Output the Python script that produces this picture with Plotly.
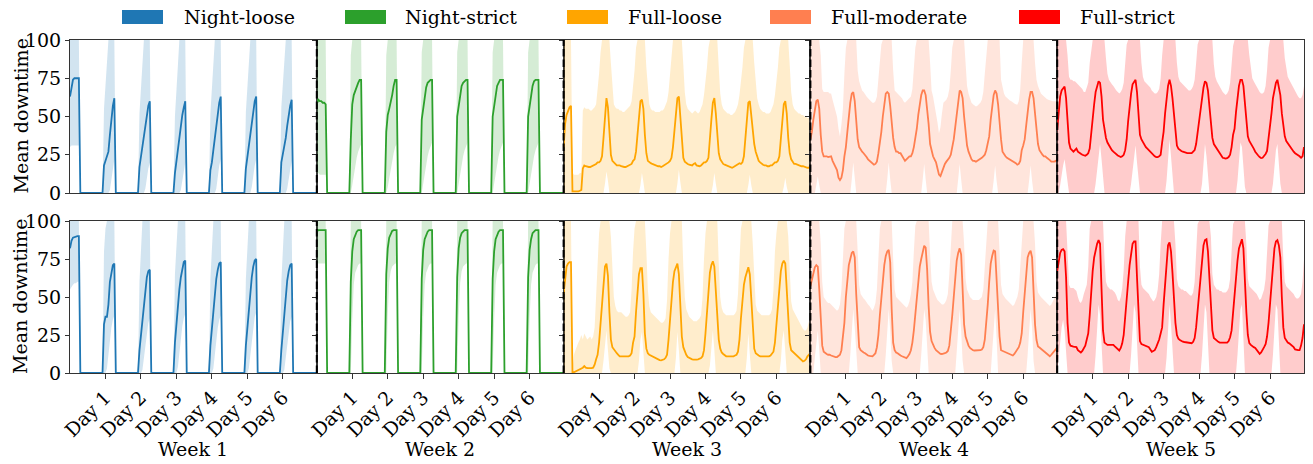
import plotly.graph_objects as go

# ---------------- categories / labels ----------------
POLICIES = ["Night-loose", "Night-strict", "Full-loose", "Full-moderate", "Full-strict"]
COLORS = ["#1f77b4", "#2ca02c", "#FFA500", "#FF7F50", "#FF0000"]
WEEKS = ["Week 1", "Week 2", "Week 3", "Week 4", "Week 5"]
DAY_TICKS = [24, 48, 72, 96, 120, 144]
DAY_LABELS = ["Day 1", "Day 2", "Day 3", "Day 4", "Day 5", "Day 6"]
Y_TICKS = [0, 25, 50, 75, 100]
Y_TITLE = "Mean downtime"
HOURS = 168
NIGHT_STARTS = [0, 23, 47, 71, 95, 119, 143]

# ---------------- Row 1 ----------------
NL1_MEAN = [[63, 70, 74, 75, 75, 75, 75],
            [18, 21, 24, 27, 38, 48, 57, 62],
            [17, 24, 31, 38, 45, 52, 57, 60],
            [13, 21, 29, 37, 44, 51, 56, 60],
            [15, 20, 28, 36, 45, 53, 59, 63],
            [16, 23, 31, 39, 47, 54, 60, 63],
            [20, 25, 29, 36, 44, 51, 57, 61]]
NL1_HI = [[100, 100, 100, 100, 100, 100, 100],
          [55, 70, 85, 100, 100, 100, 100, 100],
          [52, 68, 85, 100, 100, 100, 100, 100],
          [50, 66, 84, 100, 100, 100, 100, 100],
          [52, 68, 85, 100, 100, 100, 100, 100],
          [53, 70, 86, 100, 100, 100, 100, 100],
          [56, 72, 86, 100, 100, 100, 100, 100]]
NL1_LO = [[30, 31, 31, 31, 31, 31, 31],
          [0, 0, 0, 0, 2, 10, 17, 22],
          [0, 0, 0, 0, 3, 10, 16, 20],
          [0, 0, 0, 0, 2, 9, 15, 20],
          [0, 0, 0, 0, 3, 11, 18, 22],
          [0, 0, 0, 0, 4, 12, 18, 22],
          [0, 0, 0, 0, 3, 10, 16, 21]]

NS1_MEAN = [[58, 61, 60, 60, 59, 59, 58],
            [35, 58, 64, 67, 70, 72, 74, 74],
            [40, 51, 55, 59, 64, 70, 74, 74],
            [48, 55, 64, 69, 72, 73, 74, 74],
            [50, 57, 65, 70, 72, 73, 74, 74],
            [50, 58, 66, 70, 72, 74, 74, 74],
            [50, 58, 66, 70, 73, 74, 74, 74]]
NS1_HI = [[100, 100, 100, 100, 100, 100, 100],
          [90, 100, 100, 100, 100, 100, 100, 100],
          [90, 100, 100, 100, 100, 100, 100, 100],
          [92, 100, 100, 100, 100, 100, 100, 100],
          [92, 100, 100, 100, 100, 100, 100, 100],
          [92, 100, 100, 100, 100, 100, 100, 100],
          [92, 100, 100, 100, 100, 100, 100, 100]]
NS1_LO = [[13, 13, 12, 12, 12, 12, 12],
          [0, 5, 12, 18, 23, 27, 30, 32],
          [0, 4, 10, 16, 21, 26, 30, 32],
          [0, 6, 13, 19, 24, 28, 31, 33],
          [0, 6, 13, 19, 24, 28, 31, 33],
          [0, 6, 13, 19, 24, 28, 31, 33],
          [0, 6, 13, 19, 24, 28, 31, 33]]

FL1_MEAN = [[30, 45, 51, 54, 56, 57, 1, 1, 1, 1, 1, 1.5, 2, 16, 18, 17.5, 17, 17, 17, 17.5, 18, 18, 19, 20],
            [20, 21, 24, 36, 53, 62, 56, 40, 25, 21, 20, 19, 18, 18, 18, 17.5, 17, 17, 17, 17.5, 18, 18, 19, 21],
            [22, 27, 38, 52, 60, 61, 55, 38, 26, 21, 20, 19.5, 19, 18.5, 18.5, 18, 17.5, 17.5, 17, 17.5, 18, 18.5, 19, 20],
            [21, 23, 30, 42, 55, 62, 63, 50, 32, 23, 20.5, 19.5, 19, 18.5, 18, 18, 19, 19.5, 18, 17.5, 17.5, 18, 19, 20],
            [20, 21, 23, 33, 48, 59, 62, 52, 36, 26, 22, 20, 19, 18.5, 18, 17.5, 17, 16.5, 16.5, 17, 17.5, 18, 19, 19.5],
            [19, 20, 24, 35, 50, 59, 60, 50, 38, 32, 27, 23, 21, 20, 19, 18.5, 18, 18, 17.5, 17.5, 18, 18, 19, 20],
            [20, 21, 24, 34, 48, 58, 60, 52, 36, 26, 22, 20, 19, 19, 18.5, 18, 18, 17.5, 17.5, 17, 17, 16.5, 16.5, 17]]
FL1_HI = [[100, 100, 100, 100, 100, 100, 13, 12, 12, 12, 12, 13, 13, 54, 56, 55, 55, 55, 54, 54, 55, 56, 58, 66],
          [78, 92, 100, 100, 100, 100, 100, 100, 85, 68, 58, 56, 55, 55, 54, 54, 53, 53, 54, 55, 56, 57, 60, 68],
          [80, 95, 100, 100, 100, 100, 100, 100, 82, 66, 58, 55, 54, 54, 53, 53, 53, 53, 54, 54, 55, 57, 60, 66],
          [76, 88, 100, 100, 100, 100, 100, 100, 100, 84, 66, 58, 55, 54, 53, 52, 53, 54, 53, 52, 53, 55, 58, 64],
          [72, 82, 95, 100, 100, 100, 100, 100, 100, 82, 65, 58, 55, 54, 53, 52, 52, 51, 51, 52, 53, 55, 58, 64],
          [72, 82, 95, 100, 100, 100, 100, 100, 100, 85, 70, 62, 58, 55, 54, 53, 53, 52, 52, 52, 53, 55, 58, 64],
          [72, 82, 95, 100, 100, 100, 100, 100, 100, 84, 66, 58, 55, 54, 53, 52, 52, 51, 51, 50, 50, 49, 49, 50]]
FL1_LO = {28: 6, 29: 14, 30: 8, 52: 5, 53: 13, 54: 7, 77: 6, 78: 15, 79: 7,
          101: 5, 102: 13, 103: 6, 125: 5, 126: 12, 127: 5, 149: 4, 150: 10, 151: 4}

FM1_MEAN = [[35, 40, 48, 56, 60, 61, 55, 38, 27, 24, 24, 24, 23.5, 24, 24, 21, 19, 17, 15, 10, 8.5, 10, 15, 24],
            [30, 40, 50, 59, 65, 66, 60, 46, 35, 30, 28, 27, 26, 25, 23.5, 22, 21, 20, 19, 18.5, 19, 20.5, 26, 32],
            [40, 50, 60, 65, 66, 65, 57, 45, 36, 30, 27, 27, 26, 26, 24, 23, 21, 22, 23, 24, 24, 26, 30, 35],
            [42, 51, 59, 64, 67, 67, 64, 55, 45, 32, 27, 24, 22, 20, 16, 12, 11, 14, 17, 19, 20.5, 21.5, 23, 25],
            [29, 35, 43, 52, 61, 67, 66, 62, 50, 38, 31, 27, 24, 22, 21, 21, 20.5, 21, 21.5, 22, 23, 24, 25, 28],
            [32, 37, 48, 58, 64, 67, 65, 58, 45, 35, 27, 25, 24, 23, 22.5, 22, 21.5, 21, 20.5, 19.5, 18.5, 19, 21, 28],
            [31, 35, 44, 53, 61, 66, 66, 62, 52, 43, 32, 28, 26, 25, 24, 24, 23, 22.5, 21.5, 20.5, 20.5, 20.5, 21, 20]]
FM1_HI = [[100, 100, 100, 100, 100, 100, 100, 90, 68, 66, 66, 66, 66, 65, 65, 61, 57, 54, 50, 42, 37, 45, 55, 78],
          [95, 100, 100, 100, 100, 100, 100, 100, 80, 73, 70, 67, 66, 64, 63, 62, 61, 60, 59, 59, 60, 63, 75, 88],
          [97, 100, 100, 100, 100, 100, 100, 100, 80, 67, 66, 65, 64, 63, 62, 60, 59, 60, 61, 62, 63, 68, 80, 95],
          [100, 100, 100, 100, 100, 100, 100, 100, 100, 85, 67, 63, 58, 52, 46, 39, 43, 52, 59, 60, 61, 63, 68, 80],
          [95, 100, 100, 100, 100, 100, 100, 100, 100, 85, 70, 65, 61, 59, 58, 57, 56.5, 57, 58, 59, 61, 66, 78, 92],
          [100, 100, 100, 100, 100, 100, 100, 100, 100, 74, 68, 65, 63, 62, 61, 60.5, 60, 59, 58.5, 58, 57.6, 60, 68, 85],
          [100, 100, 100, 100, 100, 100, 100, 100, 85, 74, 70, 67, 65, 64, 63, 62, 61.5, 61, 60.5, 60, 60, 60, 60, 60]]
FM1_LO = {4: 5, 5: 11, 6: 5, 28: 9, 29: 20, 30: 10, 52: 9, 53: 20, 54: 9, 76: 9, 77: 19, 78: 9,
          100: 9, 101: 19, 102: 9, 124: 8, 125: 18, 126: 8, 148: 8, 149: 18, 150: 8}

FS1_MEAN = [[41, 55, 63, 67, 68.5, 69.6, 62, 45, 33, 29, 28, 27, 28, 29, 27, 26, 25.6, 25, 24.5, 24.3, 25, 26, 29, 40],
            [49, 58, 66, 70, 73, 72, 63, 48, 40, 36, 33, 31, 30, 28, 27, 26, 25, 24.5, 24, 23.5, 24, 25, 28, 35],
            [47, 57, 65, 71, 73, 74, 66, 50, 38, 35, 33, 31.5, 30, 29, 28, 27, 25.5, 24.5, 24, 23.5, 23.5, 24, 25, 33],
            [40, 52, 61, 70, 74, 70, 62, 50, 37, 31, 29, 28, 27.5, 27, 26.5, 26, 26, 26, 26, 26, 27, 28, 32, 40],
            [46, 55, 62, 69, 73, 72, 67, 57, 47, 36, 32, 30.5, 29, 27, 25.5, 24, 23, 22.8, 22.5, 22.8, 23.5, 25, 30, 38],
            [42, 53, 63, 70, 74, 74, 70, 57, 45, 37, 34, 32.5, 31, 29, 27, 25.5, 24.5, 23.5, 22.8, 23, 24, 25.5, 27.5, 35],
            [44, 52, 62, 67, 72, 74, 70, 64, 52, 42, 37, 34, 32.5, 31, 29.5, 28, 27, 26, 25.5, 25, 24, 23, 24, 30]]
FS1_HI = [[100, 100, 100, 100, 100, 100, 100, 90, 76, 74, 74, 73, 73, 72, 71, 70, 69.6, 68, 66, 66, 69, 72, 85, 95],
          [100, 100, 100, 100, 100, 100, 100, 100, 100, 88, 78, 74, 72, 71, 70, 68, 67, 66, 65, 66, 68, 72, 85, 97],
          [100, 100, 100, 100, 100, 100, 100, 100, 100, 85, 76, 73, 72, 71, 70, 69, 67, 66, 65, 65, 66, 68, 75, 90],
          [100, 100, 100, 100, 100, 100, 100, 100, 100, 85, 76, 73, 72, 71, 70, 69, 68, 67, 67, 68, 70, 74, 85, 97],
          [100, 100, 100, 100, 100, 100, 100, 100, 100, 100, 84, 76, 73, 71, 69, 67, 66, 65, 64, 65, 67, 72, 84, 96],
          [100, 100, 100, 100, 100, 100, 100, 100, 100, 100, 90, 80, 75, 73, 71, 69, 67, 66, 65, 65, 66, 70, 80, 95],
          [100, 100, 100, 100, 100, 100, 100, 100, 100, 100, 88, 80, 76, 74, 72, 70, 68, 66, 65, 63, 62, 62, 64, 70]]
FS1_LO = {2: 5, 3: 12, 4: 18, 5: 22, 6: 15, 7: 5, 26: 6, 27: 16, 28: 26, 29: 32, 30: 22, 31: 10,
          50: 6, 51: 16, 52: 26, 53: 31, 54: 20, 55: 8, 74: 8, 75: 20, 76: 35, 77: 24, 78: 12,
          98: 6, 99: 18, 100: 32, 101: 24, 102: 10, 122: 8, 123: 20, 124: 33, 125: 30, 126: 15, 127: 4,
          146: 6, 147: 18, 148: 28, 149: 32, 150: 18, 151: 6}

# ---------------- Row 2 ----------------
NL2_MEAN = [[82, 87, 89, 89.5, 90, 90, 90],
            [32, 37, 37, 45, 60, 67, 71, 72],
            [15, 25, 37, 48, 57, 63, 67, 68],
            [20, 33, 45, 55, 63, 69, 73, 74],
            [18, 30, 42, 53, 62, 68, 72, 73],
            [18, 30, 42, 54, 63, 70, 74, 75],
            [15, 28, 40, 52, 61, 67, 71, 72]]
NL2_HI = [[100, 100, 100, 100, 100, 100, 100],
          [80, 95, 100, 100, 100, 100, 100, 100],
          [60, 80, 100, 100, 100, 100, 100, 100],
          [65, 85, 100, 100, 100, 100, 100, 100],
          [62, 82, 100, 100, 100, 100, 100, 100],
          [62, 82, 100, 100, 100, 100, 100, 100],
          [60, 80, 100, 100, 100, 100, 100, 100]]
NL2_LO = [[55, 57, 58, 59, 59, 60, 60],
          [0, 0, 3, 12, 22, 30, 35, 38],
          [0, 0, 2, 10, 20, 28, 33, 36],
          [0, 0, 4, 13, 23, 31, 36, 39],
          [0, 0, 3, 12, 22, 30, 35, 38],
          [0, 0, 3, 12, 23, 31, 37, 40],
          [0, 0, 2, 10, 21, 29, 34, 37]]

NS2_MEAN = [[93, 94, 94, 94, 94, 94, 94],
            [60, 80, 88, 91, 93, 94, 94, 94],
            [65, 82, 89, 92, 93.5, 94, 94, 94],
            [62, 81, 88, 91, 93, 94, 94, 94],
            [63, 82, 89, 92, 93, 94, 94, 94],
            [62, 80, 88, 91, 93, 94, 94, 94],
            [63, 81, 88, 92, 93, 94, 94, 94]]
NS2_HI = [[100, 100, 100, 100, 100, 100, 100],
          [100, 100, 100, 100, 100, 100, 100, 100],
          [100, 100, 100, 100, 100, 100, 100, 100],
          [100, 100, 100, 100, 100, 100, 100, 100],
          [100, 100, 100, 100, 100, 100, 100, 100],
          [100, 100, 100, 100, 100, 100, 100, 100],
          [100, 100, 100, 100, 100, 100, 100, 100]]
NS2_LO = [[72, 72, 72, 72, 72, 72, 72],
          [0, 35, 58, 66, 69, 71, 72, 72],
          [0, 38, 60, 67, 70, 71, 72, 72],
          [0, 36, 58, 66, 69, 71, 72, 72],
          [0, 37, 59, 67, 70, 71, 72, 72],
          [0, 35, 58, 66, 69, 71, 72, 72],
          [0, 36, 58, 66, 69, 71, 72, 72]]

FL2_MEAN = [[52, 64, 70, 72, 73, 73, 0.5, 0.5, 1, 1.5, 1.5, 2, 2.5, 3.5, 4.5, 3.5, 3.3, 3.3, 3, 3.2, 3.5, 5.5, 9, 12],
            [20, 33, 47, 62, 70, 72, 64, 40, 22, 17, 15.5, 14, 13, 12, 11, 11, 11, 11, 11, 11, 11, 11.5, 13, 20],
            [24, 40, 55, 65, 69, 69, 52, 26, 16, 13, 12, 11.5, 11, 10, 9.5, 9, 8.7, 8.5, 8.3, 8.5, 9, 10, 12, 22],
            [35, 48, 60, 67, 70, 72, 65, 42, 24, 17, 14, 12, 10.5, 9.8, 9.3, 9, 8.8, 8.7, 8.8, 9, 9.3, 9.8, 11, 15],
            [26, 38, 56, 66, 71, 73.5, 70, 52, 37, 22, 16, 13.5, 12.5, 11.5, 11, 11, 11, 11, 11, 11, 11.5, 12, 14, 22],
            [36, 50, 58, 63, 67, 69.6, 65, 50, 35, 16, 13, 12, 11.5, 11, 11, 11, 11, 11, 11, 11, 11.5, 12.5, 14, 20],
            [33, 45, 58, 67, 72, 74, 72, 52, 33, 20, 15, 14, 13, 12, 11, 10, 9, 8.3, 7.6, 8, 9, 11, 12, 13]]
FL2_HI = [[100, 100, 100, 100, 100, 100, 3, 12, 15, 18, 20, 22, 25, 22, 26, 24, 22, 23, 24, 22, 24, 30, 48, 75],
          [92, 100, 100, 100, 100, 100, 100, 100, 90, 70, 50, 44, 41, 40, 40, 40, 39, 38, 37, 37, 38, 40, 55, 80],
          [95, 100, 100, 100, 100, 100, 100, 100, 80, 55, 44, 40, 39, 38, 37, 36, 35, 34, 33, 33, 34, 36, 48, 75],
          [92, 100, 100, 100, 100, 100, 100, 100, 100, 70, 50, 42, 39, 37, 36, 35, 34, 34, 34, 35, 36, 38, 50, 75],
          [92, 100, 100, 100, 100, 100, 100, 100, 100, 72, 50, 43, 40, 39, 38, 38, 38, 38, 38, 38, 39, 41, 52, 78],
          [95, 100, 100, 100, 100, 100, 100, 100, 85, 60, 45, 41, 40, 39, 38, 38, 38, 38, 38, 38, 39, 42, 55, 80],
          [92, 100, 100, 100, 100, 100, 100, 100, 90, 65, 47, 42, 40, 38, 36, 34, 32, 30, 29, 28, 28, 30, 34, 38]]
FL2_LO = {27: 8, 28: 20, 29: 28, 30: 15, 31: 3, 51: 8, 52: 22, 53: 27, 54: 12, 76: 10, 77: 27, 78: 15,
          99: 5, 100: 18, 101: 28, 102: 15, 124: 10, 125: 26, 126: 12, 147: 8, 148: 22, 149: 28, 150: 15}

FM2_MEAN = [[57, 62, 67, 69.5, 71, 70, 55, 33, 18, 14, 13, 12.5, 12, 12, 11.5, 11, 10.5, 10.4, 10.5, 11, 12, 15, 24, 33],
            [50, 63, 71, 75, 79, 80, 76, 52, 30, 17, 15, 14, 13.5, 13, 12, 11.5, 11.2, 11, 11, 12, 13, 17, 25, 38],
            [50, 62, 71, 77, 80, 81, 73, 42, 20, 15, 13.5, 13, 12, 11.5, 11, 10.5, 10, 9.8, 11, 12.5, 15, 20, 28, 40],
            [52, 63, 70, 75, 80, 83.7, 82.5, 68, 44, 27, 21, 18.5, 16.5, 15, 14, 13.2, 12.6, 12.5, 12.6, 13, 13.5, 14.5, 18, 26],
            [38, 50, 63, 74, 79, 82, 78, 52, 32, 24, 20, 18, 16.5, 15.5, 15, 14.8, 14.8, 14.8, 15, 15, 15.5, 17, 22, 32],
            [45, 60, 72, 77, 80.5, 80, 62, 40, 24, 15, 14.5, 14, 13.7, 13.5, 13, 12.5, 12, 11.5, 12.5, 14, 15.5, 17, 20, 26],
            [40, 52, 68, 76, 79, 80.4, 76, 55, 32, 21.7, 17.4, 16.8, 16, 15, 14, 13.2, 12.5, 11.8, 11, 12, 13, 14, 15.5, 17]]
FM2_HI = [[100, 100, 100, 100, 100, 100, 100, 85, 60, 50, 48, 47, 46, 46, 45, 44, 43, 42, 41, 42, 45, 55, 75, 95],
          [100, 100, 100, 100, 100, 100, 100, 100, 80, 58, 52, 50, 49, 48, 46, 45, 44, 42, 41, 43, 46, 55, 75, 95],
          [100, 100, 100, 100, 100, 100, 100, 100, 75, 55, 50, 49, 48, 47, 46, 45, 44, 43, 44, 47, 52, 60, 80, 97],
          [100, 100, 100, 100, 100, 100, 100, 100, 100, 78, 60, 55, 52, 50, 48, 47, 46, 45, 45, 46, 48, 52, 65, 85],
          [100, 100, 100, 100, 100, 100, 100, 100, 85, 62, 55, 52, 50, 49, 48, 48, 48, 48, 48, 49, 50, 55, 70, 92],
          [100, 100, 100, 100, 100, 100, 100, 100, 80, 58, 52, 50, 49, 48, 47, 46, 45, 44, 45, 48, 50, 55, 70, 90],
          [100, 100, 100, 100, 100, 100, 100, 100, 85, 60, 53, 51, 50, 49, 48, 47, 46, 45, 44, 45, 47, 49, 51, 53]]
FM2_LO = {3: 10, 4: 22, 5: 28, 6: 15, 27: 12, 28: 30, 29: 42, 30: 30, 31: 10, 51: 12, 52: 30, 53: 42, 54: 28, 55: 8,
          75: 12, 76: 30, 77: 42, 78: 35, 79: 15, 99: 14, 100: 32, 101: 42, 102: 28, 103: 8,
          123: 14, 124: 32, 125: 42, 126: 22, 147: 12, 148: 30, 149: 42, 150: 30, 151: 8}

FS2_MEAN = [[67, 75, 79, 81, 81.5, 80, 63, 33, 20, 18, 17.5, 17.4, 17.2, 17, 15, 14, 13.5, 14.5, 16, 18, 22, 26, 38, 55],
            [67, 76, 82, 85, 87.4, 85, 55, 28, 20, 19, 18.5, 18.5, 18.5, 18.5, 18.5, 17.5, 16.5, 15.5, 14.8, 16.5, 19.5, 25, 35, 45],
            [60, 71, 79, 85, 86.5, 86.5, 63, 37, 21, 19, 18.5, 18, 17.5, 17, 17, 15.5, 14, 14.5, 15, 17, 19, 22, 26, 30],
            [45, 60, 75, 84, 86, 80, 66, 45, 33, 25, 22.5, 21.7, 21, 20.6, 20.4, 20.2, 20, 20, 19.8, 19.6, 20.5, 23, 30, 42],
            [48, 65, 77, 84, 87.5, 88, 80, 60, 40, 28, 23, 22, 21, 20.5, 20, 20, 19.8, 19.6, 19.6, 20, 21, 23.5, 28, 40],
            [50, 63, 74, 82, 86, 88, 82, 58, 40, 25, 19.6, 18.5, 17.5, 17, 16.5, 15, 13.5, 12.6, 13.5, 15, 17, 19, 24, 33],
            [45, 58, 70, 82, 86.5, 87.4, 84, 76, 50, 30, 23, 21, 20, 19.5, 18.7, 18, 17, 15.5, 15, 15, 15, 18, 23, 32]]
FS2_HI = [[100, 100, 100, 100, 100, 100, 100, 80, 58, 56, 56, 56, 55, 54, 50, 47, 46, 48, 52, 55, 58, 70, 95, 100],
          [100, 100, 100, 100, 100, 100, 100, 100, 75, 60, 57, 56, 55, 55, 54, 53, 51, 48, 47, 50, 56, 68, 90, 100],
          [100, 100, 100, 100, 100, 100, 100, 100, 70, 58, 56, 55, 54, 53, 52, 50, 48, 47, 48, 50, 55, 65, 85, 100],
          [100, 100, 100, 100, 100, 100, 100, 100, 85, 62, 57, 56, 55, 55, 54, 54, 53, 52, 51, 51, 53, 60, 78, 98],
          [100, 100, 100, 100, 100, 100, 100, 100, 90, 65, 58, 56, 55, 55, 54, 54, 53, 53, 53, 54, 56, 62, 80, 98],
          [100, 100, 100, 100, 100, 100, 100, 100, 85, 62, 57, 56, 55, 54, 53, 52, 50, 48, 49, 52, 55, 62, 80, 97],
          [100, 100, 100, 100, 100, 100, 100, 100, 100, 75, 60, 57, 56, 55, 54, 53, 52, 50, 49, 49, 50, 52, 60, 75]]
FS2_LO = {1: 8, 2: 20, 3: 30, 4: 35, 5: 28, 6: 12, 26: 12, 27: 28, 28: 45, 29: 38, 30: 18,
          50: 12, 51: 30, 52: 45, 53: 40, 54: 18, 74: 10, 75: 30, 76: 45, 77: 32, 78: 12,
          98: 12, 99: 30, 100: 45, 101: 40, 102: 18, 122: 12, 123: 30, 124: 42, 125: 45, 126: 25,
          146: 12, 147: 30, 148: 45, 149: 42, 150: 22}


# ---------------- helpers to assemble hourly series ----------------
def from_days(days):
    return [v for d in days for v in d]


def from_nights(segs):
    arr = [0.0] * HOURS
    for start, seg in zip(NIGHT_STARTS, segs):
        for i, v in enumerate(seg):
            if start + i < HOURS:
                arr[start + i] = v
    return arr


def from_sparse(d):
    arr = [0.0] * HOURS
    for h, v in d.items():
        arr[h] = v
    return arr


PANELS = [
    [(from_nights(NL1_MEAN), from_nights(NL1_LO), from_nights(NL1_HI)),
     (from_nights(NS1_MEAN), from_nights(NS1_LO), from_nights(NS1_HI)),
     (from_days(FL1_MEAN), from_sparse(FL1_LO), from_days(FL1_HI)),
     (from_days(FM1_MEAN), from_sparse(FM1_LO), from_days(FM1_HI)),
     (from_days(FS1_MEAN), from_sparse(FS1_LO), from_days(FS1_HI))],
    [(from_nights(NL2_MEAN), from_nights(NL2_LO), from_nights(NL2_HI)),
     (from_nights(NS2_MEAN), from_nights(NS2_LO), from_nights(NS2_HI)),
     (from_days(FL2_MEAN), from_sparse(FL2_LO), from_days(FL2_HI)),
     (from_days(FM2_MEAN), from_sparse(FM2_LO), from_days(FM2_HI)),
     (from_days(FS2_MEAN), from_sparse(FS2_LO), from_days(FS2_HI))],
]

# ---------------- geometry (pixels) ----------------
W, H = 1313, 464
ML, MR, MT, MB = 70, 9, 40, 91
PW, PH = W - ML - MR, H - MT - MB
FONT = "DejaVu Serif, Liberation Serif, serif"
FS = 19
AX_COL = "#333333"


def py(pix):  # pixel y -> paper
    return 1 - (pix - MT) / PH


def px(pix):  # pixel x -> paper
    return (pix - ML) / PW


ROW_DOM = [[py(193), 1.0], [0.0, py(221)]]


def rgba(hexc, a):
    hexc = hexc.lstrip("#")
    r, g, b = int(hexc[0:2], 16), int(hexc[2:4], 16), int(hexc[4:6], 16)
    return f"rgba({r},{g},{b},{a})"


fig = go.Figure()
layout = {}
for r in range(2):
    for c in range(5):
        k = r * 5 + c + 1
        xa = "x" if k == 1 else f"x{k}"
        ya = "y" if k == 1 else f"y{k}"
        mean, lo, hi = PANELS[r][c]
        xs = list(range(len(mean)))
        col = COLORS[c]
        fig.add_trace(go.Scatter(x=list(range(len(lo))), y=lo, xaxis=xa, yaxis=ya, mode="lines",
                                 line=dict(width=0, color=col), hoverinfo="skip", showlegend=False))
        fig.add_trace(go.Scatter(x=list(range(len(hi))), y=hi, xaxis=xa, yaxis=ya, mode="lines",
                                 line=dict(width=0, color=col), fill="tonexty",
                                 fillcolor=rgba(col, 0.2), hoverinfo="skip", showlegend=False))
        fig.add_trace(go.Scatter(x=xs, y=mean, xaxis=xa, yaxis=ya, mode="lines",
                                 line=dict(width=1.8, color=col), showlegend=False,
                                 name=POLICIES[c]))
        xkey = "xaxis" if k == 1 else f"xaxis{k}"
        ykey = "yaxis" if k == 1 else f"yaxis{k}"
        layout[xkey] = dict(domain=[c * 0.2, (c + 1) * 0.2], range=[0, 167], anchor=ya,
                            showgrid=False, zeroline=False, showline=True, mirror=True,
                            linecolor=AX_COL, linewidth=1.1,
                            tickvals=DAY_TICKS, ticktext=DAY_LABELS,
                            ticks="outside" if r == 1 else "", ticklen=5, tickcolor=AX_COL,
                            showticklabels=(r == 1), tickangle=-45,
                            tickfont=dict(family=FONT, size=FS, color="black"))
        layout[ykey] = dict(domain=ROW_DOM[r], range=[0, 100], anchor=xa,
                            showgrid=False, zeroline=False, showline=True, mirror=True,
                            linecolor=AX_COL, linewidth=1.1,
                            tickvals=Y_TICKS, ticks="outside", ticklen=4, tickcolor=AX_COL,
                            showticklabels=(c == 0),
                            tickfont=dict(family=FONT, size=FS, color="black"))

shapes = []
# dashed week separators
for r in range(2):
    for c in range(1, 5):
        shapes.append(dict(type="line", xref="paper", yref="paper", x0=c * 0.2, x1=c * 0.2,
                           y0=ROW_DOM[r][0], y1=ROW_DOM[r][1],
                           line=dict(color="black", width=2, dash="7.5px,3px")))

annotations = []
# legend (drawn manually as patches + text)
LEG_RECT_X = [122, 345, 567, 770, 1019]
LEG_TEXT_X = [182, 403, 626, 829, 1078]
for i, name in enumerate(POLICIES):
    shapes.append(dict(type="rect", xref="paper", yref="paper",
                       x0=px(LEG_RECT_X[i]), x1=px(LEG_RECT_X[i] + 41),
                       y0=py(24), y1=py(10), fillcolor=COLORS[i], line=dict(width=0)))
    annotations.append(dict(text=name, xref="paper", yref="paper", x=px(LEG_TEXT_X[i]), y=py(17),
                            xanchor="left", yanchor="middle", showarrow=False,
                            font=dict(family=FONT, size=FS, color="black")))
# week labels
for c, wk in enumerate(WEEKS):
    annotations.append(dict(text=wk, xref="paper", yref="paper", x=(c + 0.5) * 0.2, y=py(449),
                            xanchor="center", yanchor="middle", showarrow=False,
                            font=dict(family=FONT, size=FS, color="black")))
# y titles
for r in range(2):
    annotations.append(dict(text=Y_TITLE, xref="paper", yref="paper", x=px(20),
                            y=(ROW_DOM[r][0] + ROW_DOM[r][1]) / 2, textangle=-90,
                            xanchor="center", yanchor="middle", showarrow=False,
                            font=dict(family=FONT, size=FS, color="black")))

fig.update_layout(**layout)
fig.update_layout(width=W, height=H, autosize=False,
                  margin=dict(l=ML, r=MR, t=MT, b=MB, pad=0),
                  paper_bgcolor="white", plot_bgcolor="white",
                  font=dict(family=FONT, size=FS, color="black"),
                  shapes=shapes, annotations=annotations, showlegend=False)

fig.write_html("out.html")
